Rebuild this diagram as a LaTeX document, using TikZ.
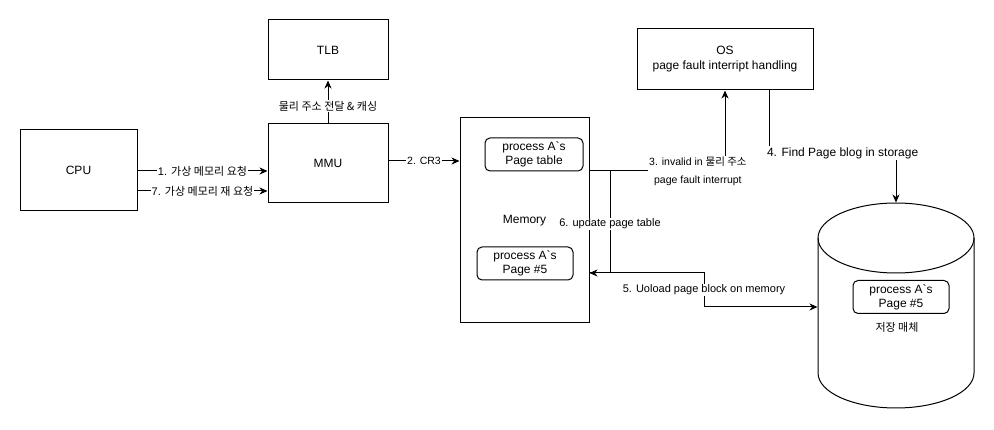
\documentclass[tikz,border=0pt]{standalone}
\usepackage{fontspec}
\setmainfont{Liberation Sans}
\newfontfamily\krfont{Noto Sans CJK KR}
\newcommand{\ko}[1]{{\krfont #1}}
\usetikzlibrary{arrows.meta}

\begin{document}
\begin{tikzpicture}[x=1pt, y=-1pt, line width=1pt,
    main/.style = {draw, rectangle, font=\fontsize{12}{15}\selectfont, align=center},
    inbox/.style = {draw, rectangle, rounded corners=5pt, font=\fontsize{12}{14}\selectfont, align=center, minimum width=96pt, minimum height=33pt},
    lbl/.style = {fill=white, inner sep=1pt, font=\fontsize{11}{13}\selectfont},
    arr/.style = {-{Stealth[length=8pt, width=7pt, inset=2.5pt]}}]
                \useasboundingbox (0,0) rectangle (994,430);

                \node[main, minimum width=117pt, minimum height=81pt] (cpu) at (78.5,170) {CPU};
                \node[main, minimum width=120pt, minimum height=79pt] (mmu) at (328,163.5) {MMU};
                \node[main, minimum width=120pt, minimum height=60pt] (tlb) at (328,50) {TLB};
                \node[main, minimum width=129pt, minimum height=205pt] (mem) at (524.5,220.5) {Memory};
                \node[inbox, minimum width=98pt] (ptable) at (534,154.5) {process A\textasciigrave s\\Page table};
                \node[inbox] (page) at (525,263.5) {process A\textasciigrave s\\Page \#5};
                \node[main, minimum width=176pt, minimum height=61pt] (os) at (725,59.5) {OS\\page fault interript handling};

                \node[minimum width=156pt, minimum height=205pt, inner sep=0pt] (storage) at (896,305.5) {};
                \draw (896,238) ellipse [x radius=78pt, y radius=35pt];
                \draw (818,238) -- (818,373) arc[start angle=180, end angle=360, x radius=78pt, y radius=35pt] -- (974,238);
                \node[inbox] (spage) at (901,297) {process A\textasciigrave s\\Page \#5};
                \node[font=\fontsize{11}{13}\selectfont] (slabel) at (897,327) {\krfont 저장 매체};

                \draw[arr] (cpu.east |- 0,171) -- (mmu.west |- 0,171) node[lbl, midway] {1. \ko{가상 메모리 요청}};
                \draw[arr] (cpu.east |- 0,191) -- (mmu.west |- 0,191) node[lbl, midway] {7. \ko{가상 메모리 재 요청}};
                \draw[arr] (mmu.north) -- (tlb.south) node[lbl, pos=0.4] {\krfont 물리 주소 전달 \& 캐싱};
                \draw[arr] (mmu.east |- 0,161) -- (mem.west |- 0,161) node[lbl, midway, font=\fontsize{10.5}{12}\selectfont] {2. CR3};

                \coordinate (split) at (610,171);
                \draw[arr] (mem.east |- 0,171) -| (os.south) node[lbl, pos=0.4, align=center, font=\fontsize{10.5}{18}\selectfont] {3. invalid in \ko{물리 주소}\\page fault interrupt};
                \draw[arr] (split) |- (mem.east |- 0,273) node[lbl, pos=0.26] {6. update page table};
                \draw[arr] (mem.east |- 0,273) -- (704,273) |- (storage.west |- 0,307) node[lbl, pos=0.25] {5. Uoload page block on memory};
                \draw[arr] (os.south -| 769,0) -- (769,153) -| (storage.north) node[lbl, pos=0.29, font=\fontsize{12}{14}\selectfont] {4. Find Page blog in storage};
            \end{tikzpicture}
\end{document}
